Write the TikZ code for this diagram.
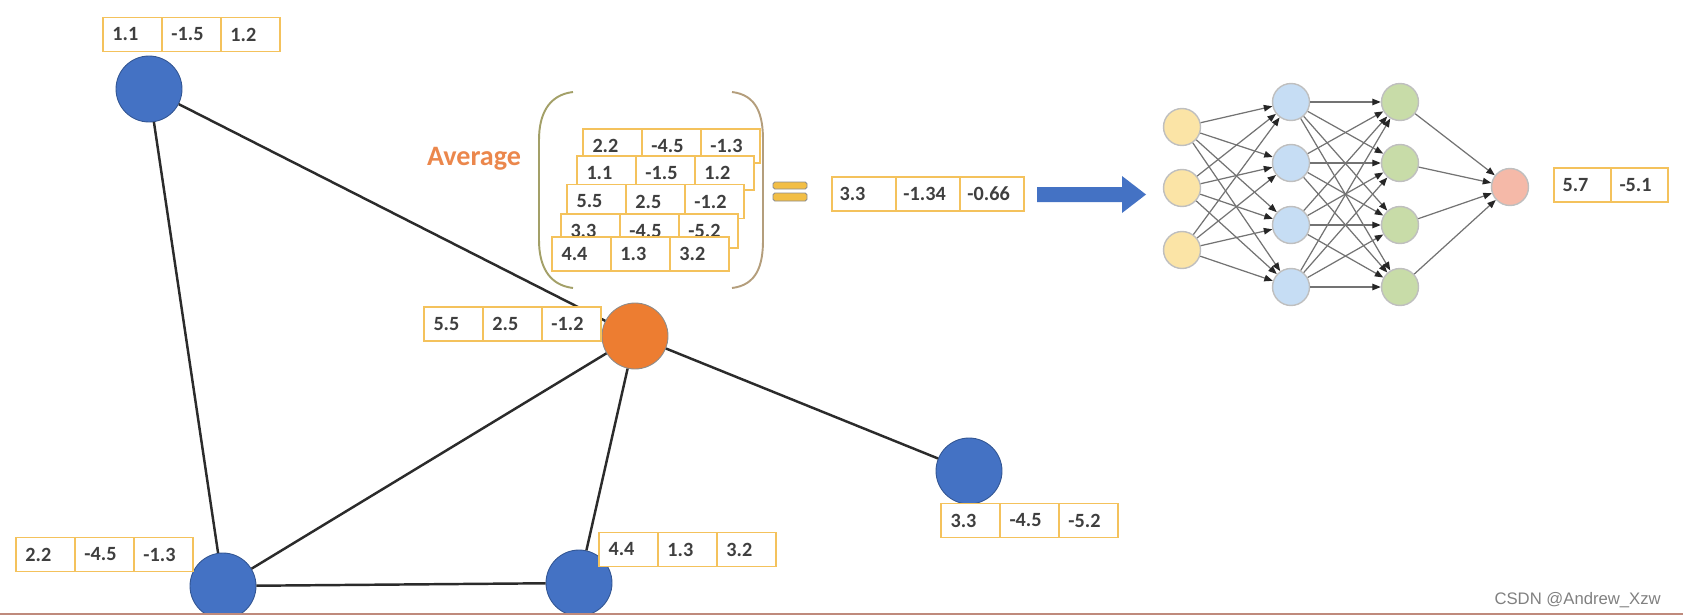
\documentclass[tikz,border=0pt]{standalone}
\usepackage{fontspec}
\setmainfont{Carlito}
\newfontfamily\markfont{Liberation Sans}
\usetikzlibrary{arrows.meta,positioning}
\definecolor{inkgray}{HTML}{3F3F3F}
\definecolor{edgeink}{HTML}{2B2B2B}
\definecolor{boxgold}{HTML}{F4C25C}
\definecolor{nodeblue}{HTML}{4472C4}
\definecolor{nodeorange}{HTML}{ED7D31}
\definecolor{avgorange}{HTML}{EB874C}
\definecolor{leftbr}{HTML}{A3A068}
\definecolor{rightbr}{HTML}{B49E7C}
\definecolor{eqgold}{HTML}{F2BE45}
\definecolor{inyellow}{HTML}{FBE4A6}
\definecolor{hidblue}{HTML}{C6DDF4}
\definecolor{hidgreen}{HTML}{C8DCA8}
\definecolor{outpink}{HTML}{F5B9A8}
\definecolor{stripred}{HTML}{BF8A7C}

% one row of three value cells, #1 name, #2 west point
\newcommand\valrow[5]{%
  \node[cell,anchor=west] (#1a) at (#2) {#3};
  \node[cell,right=0pt of #1a] (#1b) {#4};
  \node[cell,right=0pt of #1b] (#1c) {#5};}

\begin{document}
\begin{tikzpicture}[x=0.02cm,y=-0.02cm,
  cell/.style={rectangle,draw=boxgold,fill=white,line width=0.9pt,
    minimum width=1.18cm,minimum height=0.68cm,text width=0.8cm,
    align=left,outer sep=0pt,text=inkgray,
    font=\fontsize{11.5}{13}\selectfont\bfseries},
  vertex/.style={circle,fill=nodeblue,draw=nodeblue!75!black,
    line width=0.5pt,minimum size=1.32cm,inner sep=0pt},
  edge/.style={edgeink,line width=1.4pt},
  neuron/.style={circle,line width=0.8pt,minimum size=0.74cm,inner sep=0pt},
  link/.style={black!55,line width=0.7pt,
    -{Triangle[length=0.17cm,width=0.13cm,color=black!85]}},
  bracket/.style={line width=1.1pt}
]
  \useasboundingbox (0,0) rectangle (1683,615);

  % graph
  \node[vertex] (va) at (149,89) {};
  \node[vertex,fill=nodeorange,draw=black!45] (vo) at (635,336) {};
  \node[vertex] (vb) at (223,586) {};
  \node[vertex] (vc) at (579,583) {};
  \node[vertex] (vd) at (969,471) {};
  \draw[edge] (va) -- (vb);
  \draw[edge] (va) -- (vo);
  \draw[edge] (vo) -- (vb);
  \draw[edge] (vo) -- (vc);
  \draw[edge] (vo) -- (vd);
  \draw[edge] (vb) -- (vc);

  \valrow{ra}{103,34.5}{1.1}{-1.5}{1.2}
  \valrow{ro}{424,324}{5.5}{2.5}{-1.2}
  \valrow{rb}{16,554.5}{2.2}{-4.5}{-1.3}
  \valrow{rc}{599,549.5}{4.4}{1.3}{3.2}
  \valrow{rd}{941,520.5}{3.3}{-4.5}{-5.2}

  % averaging
  \node[font=\fontsize{16}{18}\selectfont\bfseries,text=avgorange] (avg)
    at (474,159) {Average};
  \draw[bracket,leftbr] (573,92) .. controls (548,95) and (539,115) ..
    (539,140) -- (539,240) .. controls (539,265) and (548,285) .. (573,288);
  \draw[bracket,rightbr] (732,92) .. controls (757,95) and (763,115) ..
    (763,140) -- (763,240) .. controls (763,265) and (757,285) .. (732,288);
  \valrow{s1}{583,146}{2.2}{-4.5}{-1.3}
  \valrow{s2}{577,173}{1.1}{-1.5}{1.2}
  \valrow{s3}{567,201.5}{5.5}{2.5}{-1.2}
  \valrow{s4}{561,231}{3.3}{-4.5}{-5.2}
  \valrow{s5}{552,254}{4.4}{1.3}{3.2}

  \fill[eqgold,draw=black!45,line width=0.5pt,rounded corners=1pt]
    (773,182) rectangle (807,189) (773,193) rectangle (807,201);
  \begin{scope}[cell/.append style={minimum width=1.28cm,text width=0.98cm}]
    \valrow{mean}{832,194}{3.3}{-1.34}{-0.66}
  \end{scope}
  \fill[nodeblue] (1037,187) -- (1122,187) -- (1122,176) -- (1146,194.5)
    -- (1122,213) -- (1122,202) -- (1037,202) -- cycle;

  % network
  \foreach \y [count=\i] in {127,188,250}
    \node[neuron,fill=inyellow,draw=black!25] (in\i) at (1182,\y) {};
  \foreach \y [count=\i] in {102,163,225,287} {
    \node[neuron,fill=hidblue,draw=black!25] (h\i) at (1291,\y) {};
    \node[neuron,fill=hidgreen,draw=black!25] (g\i) at (1400,\y) {};
  }
  \node[neuron,fill=outpink,draw=black!25] (out) at (1510,187) {};
  \foreach \i in {1,2,3}
    \foreach \j in {1,...,4}
      \draw[link] (in\i) -- (h\j);
  \foreach \i in {1,...,4}
    \foreach \j in {1,...,4}
      \draw[link] (h\i) -- (g\j);
  \foreach \i in {1,...,4}
    \draw[link] (g\i) -- (out);

  \node[cell,anchor=west,minimum width=1.14cm] (pa) at (1554,185) {5.7};
  \node[cell,right=0pt of pa,minimum width=1.14cm] (pb) {-5.1};

  \node[font=\markfont\fontsize{9.5}{11}\selectfont,text=black!50,
    anchor=east] (mark) at (1667,600) {CSDN @Andrew\_Xzw};
  \fill[stripred] (0,612.5) rectangle (1683,615);
\end{tikzpicture}
\end{document}
